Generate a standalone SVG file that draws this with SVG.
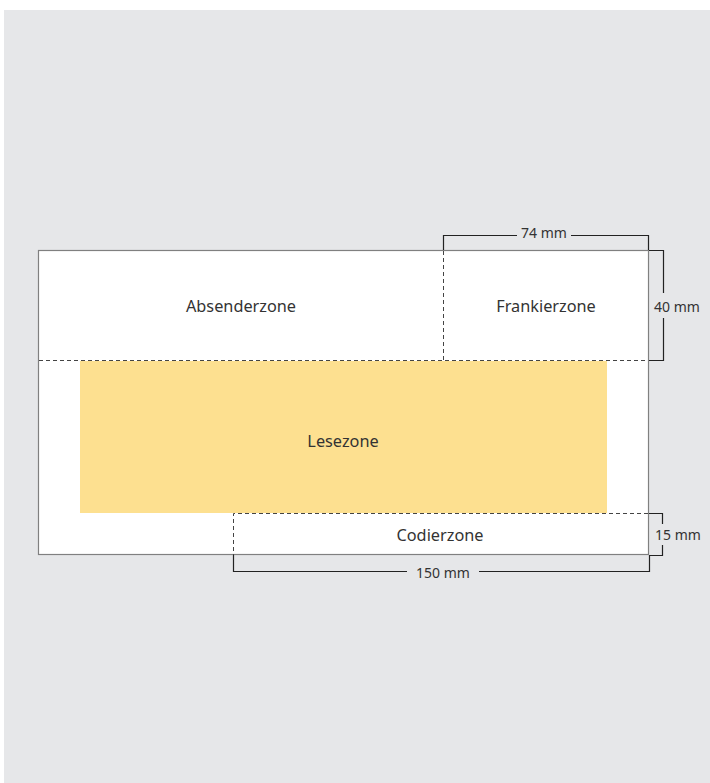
<svg xmlns="http://www.w3.org/2000/svg" width="710" height="783" viewBox="0 0 710 783">
<style>
.lbl{font-family:"Noto Sans","Open Sans",sans-serif;font-size:16.3px;fill:#333;text-anchor:middle;dominant-baseline:central}
.dim{font-family:"Noto Sans","Open Sans",sans-serif;font-size:14px;fill:#333;text-anchor:middle;dominant-baseline:central}
.dash{fill:none;stroke:#444;stroke-width:1;stroke-dasharray:4 3}
.dl{fill:none;stroke:#222;stroke-width:1.2}
</style>
<rect x="4" y="10" width="706" height="773" fill="#e6e7e9"/>
<g id="envelope">
<rect x="38.5" y="250.5" width="610" height="304" fill="#fff" stroke="#808080" stroke-width="1.2"/>
</g>
<g id="lesezone">
<rect x="80" y="361" width="527" height="152" fill="#fde090"/>
<text class="lbl" x="343" y="441">Lesezone</text>
</g>
<g id="absenderzone">
<text class="lbl" x="241" y="306">Absenderzone</text>
</g>
<g id="frankierzone">
<text class="lbl" x="546" y="306">Frankierzone</text>
</g>
<g id="codierzone">
<text class="lbl" x="440" y="535">Codierzone</text>
</g>
<g id="connectors">
<line class="dash" x1="39" y1="360.5" x2="648" y2="360.5"/>
<line class="dash" x1="443.5" y1="251" x2="443.5" y2="360"/>
<path class="dash" d="M648 513.5 H233.5 V555"/>
<path class="dl" d="M443.5 250 V235.5 H517 M571 235.5 H648.5 V250"/>
<path class="dl" d="M649 250.5 H663.5 V293 M663.5 318 V360.5 H649"/>
<path class="dl" d="M649 513.5 H662.5 V524 M662.5 545 V555.5 H649"/>
<path class="dl" d="M233.5 555 V571.5 H407 M479 571.5 H649.5 V555"/>
</g>
<text class="dim" x="544" y="232.5">74 mm</text>
<text class="dim" x="677" y="306">40 mm</text>
<text class="dim" x="678" y="534.5">15 mm</text>
<text class="dim" x="443" y="572.5">150 mm</text>
</svg>
